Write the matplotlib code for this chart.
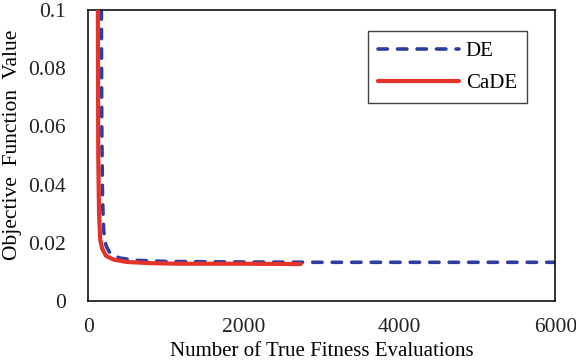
import matplotlib

matplotlib.use("Agg")
import matplotlib.pyplot as plt

# Data
de_x = [170, 175, 185, 200, 230, 280, 400, 600, 1000, 2000, 3000, 4000, 5000, 6000]
de_y = [0.1, 0.06, 0.035, 0.024, 0.019, 0.0165, 0.0148, 0.0140, 0.0136, 0.0134,
        0.0133, 0.0133, 0.0133, 0.0133]
cade_x = [125, 130, 140, 155, 180, 230, 330, 500, 800, 1200, 2000, 2730]
cade_y = [0.1, 0.05, 0.03, 0.021, 0.018, 0.0155, 0.0142, 0.0134, 0.0130, 0.0128,
          0.0128, 0.0127]

x_ticks = [0, 2000, 4000, 6000]
y_ticks = [0, 0.02, 0.04, 0.06, 0.08, 0.1]
y_tick_labels = ["0", "0.02", "0.04", "0.06", "0.08", "0.1"]

plt.rcParams["font.family"] = ["Liberation Serif", "DejaVu Serif"]

fig = plt.figure(figsize=(5.76, 3.64), dpi=100)
ax = fig.add_axes([0.153, 0.173, 0.811, 0.800])

ax.plot(de_x, de_y, color="#2F3E9E", lw=2.6, ls=(0, (2.6, 2.8)),
        dash_capstyle="round", label="DE", zorder=2)
ax.plot(cade_x, cade_y, color="#E5332A", lw=3.0, solid_capstyle="round",
        label="CaDE", zorder=3)

ax.set_xlim(0, 6000)
ax.set_ylim(0, 0.1)
ax.set_xticks(x_ticks)
ax.set_yticks(y_ticks)
ax.set_yticklabels(y_tick_labels)
ax.tick_params(length=0, labelsize=15.5, colors="#222222")
ax.tick_params(axis="x", pad=12)
ax.tick_params(axis="y", pad=16)
for s in ax.spines.values():
    s.set_linewidth(1.2)
    s.set_color("#111111")

ax.set_xlabel("Number of True Fitness Evaluations", fontsize=15, labelpad=4)
ax.set_ylabel("Objective  Function  Value", fontsize=15.5)
ax.yaxis.set_label_coords(-0.141, 0.535)

leg = ax.legend(loc="upper right", bbox_to_anchor=(0.940, 0.928), fontsize=15,
                frameon=True, fancybox=False, edgecolor="#111111",
                handlelength=3.9, handletextpad=0.3, borderpad=0.5,
                labelspacing=0.6, borderaxespad=0)
leg.get_frame().set_linewidth(1.0)

fig.savefig("out.png", dpi=100, facecolor="white")
